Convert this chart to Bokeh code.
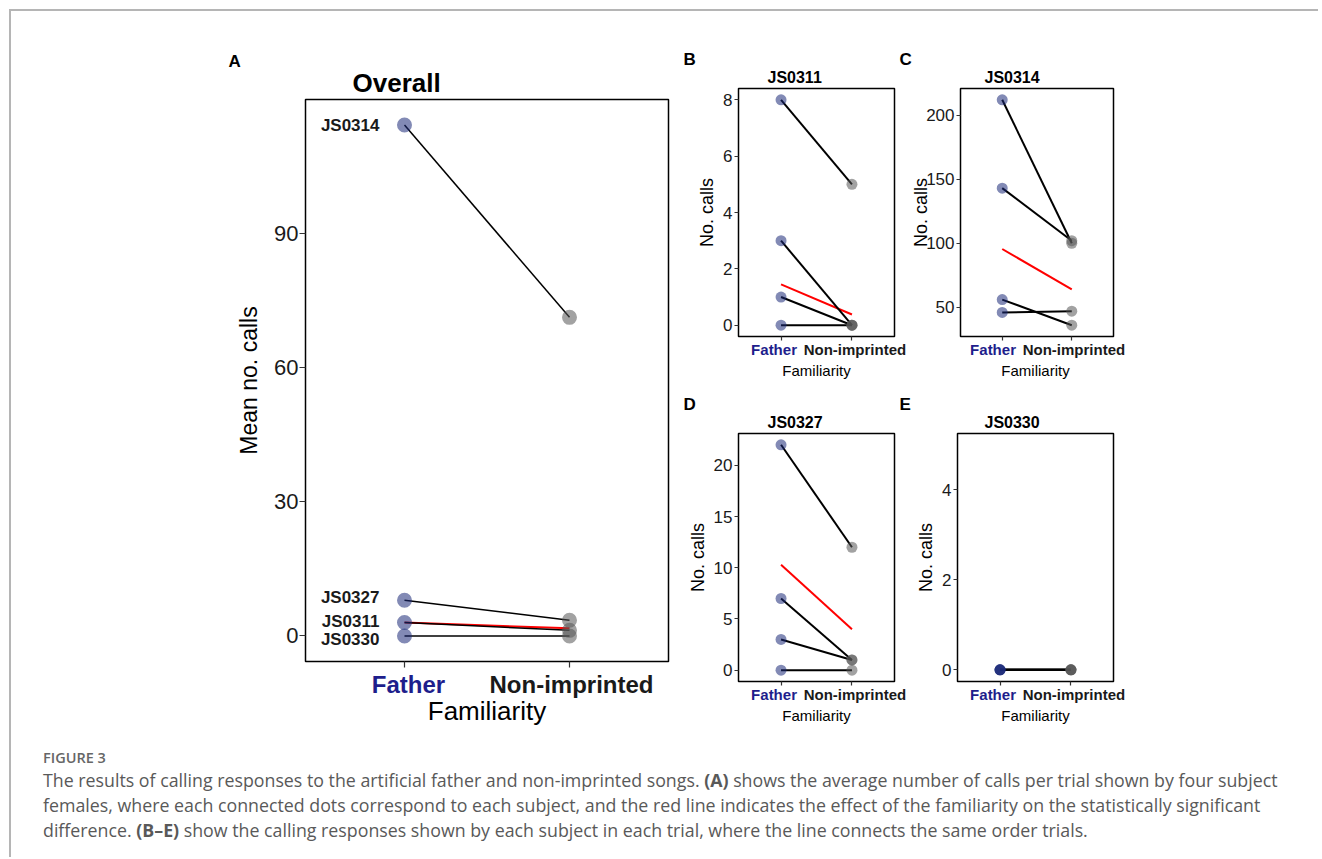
import numpy as np
from bokeh.plotting import figure
from bokeh.models import Label, LabelSet, FixedTicker, Range1d, ColumnDataSource, Div, Spacer
from bokeh.layouts import row, column
from bokeh.core.properties import value
from bokeh.embed import file_html
from bokeh.resources import INLINE

# ---------------- data ----------------
familiarity = ["Father", "Non-imprinted"]
subjects = ["JS0311", "JS0314", "JS0327", "JS0330"]

js0311_father = [8, 3, 1, 0]
js0311_nonimp = [5, 0, 0, 0]
js0314_father = [212, 143, 56, 46]
js0314_nonimp = [100, 102, 36, 47]
js0327_father = [22, 7, 3, 0]
js0327_nonimp = [12, 1, 1, 0]
js0330_father = [0, 0, 0, 0]
js0330_nonimp = [0, 0, 0, 0]

# fitted familiarity effect (red lines)
fit_overall = [3.0, 1.7]
fit_js0311 = [1.45, 0.38]
fit_js0314 = [95.5, 64.0]
fit_js0327 = [10.3, 4.0]

overall_ticks = [0, 30, 60, 90]
js0311_ticks = [0, 2, 4, 6, 8]
js0314_ticks = [50, 100, 150, 200]
js0327_ticks = [0, 5, 10, 15, 20]
js0330_ticks = [0, 2, 4]

caption_label = "FIGURE 3"
caption_lines = [
    "The results of calling responses to the artificial father and non-imprinted songs. <b>(A)</b> shows the average number of calls per trial shown by four subject",
    "females, where each connected dots correspond to each subject, and the red line indicates the effect of the familiarity on the statistically significant",
    "difference. <b>(B\u2013E)</b> show the calling responses shown by each subject in each trial, where the line connects the same order trials.",
]

# ---------------- style ----------------
FONT = "Liberation Sans"
FATHER_DOT = "#1c2a78"
NONIMP_DOT = "#555555"
DOT_ALPHA = 0.55
FATHER_TXT = "#1e1e8c"
TXT = "#1a1a1a"
XPOS = {f: i + 1 for i, f in enumerate(familiarity)}
XR = (0.4, 2.6)


def expand(vals, frac=0.05):
    lo, hi = float(min(vals)), float(max(vals))
    d = (hi - lo) * frac
    return lo - d, hi + d


def blank(width, height, xr, yr):
    p = figure(width=width, height=height, x_range=Range1d(*xr), y_range=Range1d(*yr),
               output_backend="svg", toolbar_location=None, x_axis_location=None, y_axis_location=None,
               min_border=0, min_border_left=0, min_border_right=0, min_border_top=0, min_border_bottom=0,
               frame_align=False)
    p.grid.visible = False
    p.outline_line_color = None
    p.background_fill_color = "white"
    p.border_fill_color = "white"
    return p


def header(width, height, items):
    """items: (text, x, center_from_top, size)"""
    p = blank(width, height, (0, width), (0, height))
    for t, x, c, size in items:
        p.add_layout(Label(x=x, y=height - c, text=t, text_font=FONT, text_font_style="bold",
                           text_font_size=size, text_baseline="middle", text_color="black"))
    return p


def main_fig(width, mbl, mbr, frame_h, yr, yticks, s):
    tick = s["tick"]
    p = figure(width=width, height=1 + frame_h + tick + 2, x_range=Range1d(*XR), y_range=Range1d(*yr),
               output_backend="svg", toolbar_location=None, frame_align=False,
               min_border_left=mbl, min_border_right=mbr, min_border_top=1, min_border_bottom=tick + 2)
    p.grid.visible = False
    p.outline_line_color = "black"
    p.outline_line_width = 1.5
    p.background_fill_color = "white"
    p.border_fill_color = "white"
    xa, ya = p.xaxis[0], p.yaxis[0]
    for ax in (xa, ya):
        ax.axis_line_color = None
        ax.minor_tick_line_color = None
        ax.major_tick_in = 0
        ax.major_tick_out = tick
        ax.major_tick_line_color = "#333333"
        ax.major_tick_line_width = 1.2
    ya.ticker = FixedTicker(ticks=yticks)
    ya.major_label_text_font = FONT
    ya.major_label_text_color = TXT
    ya.major_label_text_font_size = s["ytick"]
    ya.major_label_standoff = s["ystand"]
    ya.axis_label = s["ylabel"]
    ya.axis_label_text_font = FONT
    ya.axis_label_text_font_style = "normal"
    ya.axis_label_text_color = "black"
    ya.axis_label_text_font_size = s["ylab"]
    ya.axis_label_standoff = s["ylabstand"]
    xa.ticker = FixedTicker(ticks=[XPOS[f] for f in familiarity])
    xa.major_label_overrides = {XPOS[f]: "" for f in familiarity}
    xa.major_label_text_font_size = "1px"
    xa.major_label_standoff = 0
    return p


def footer(width, mbl, mbr, height, s):
    fw = width - mbl - mbr
    per = (XR[1] - XR[0]) / fw
    p = blank(width, height, (XR[0] - mbl * per, XR[1] + mbr * per), (0, height))
    p.text(x=[XPOS[f] for f in familiarity], y=[height - s["tick_c"]] * len(familiarity),
           text=familiarity, x_offset=s["tick_dx"], text_align="center", text_baseline="middle",
           text_font=value(FONT), text_font_style="bold", text_font_size=s["xtick"],
           text_color=[FATHER_TXT, TXT])
    p.add_layout(Label(x=sum(XR) / 2, y=height - s["lab_c"], text="Familiarity", text_align="center",
                       text_baseline="middle", text_font=FONT, text_font_size=s["xlab"],
                       text_color="black"))
    return p


def draw_pairs(p, father, nonimp, size, lw):
    xf, xn = XPOS["Father"], XPOS["Non-imprinted"]
    p.multi_line(xs=[[xf, xn] for _ in father], ys=[[a, b] for a, b in zip(father, nonimp)],
                 line_color="black", line_width=lw)
    p.scatter(x=[xf] * len(father), y=father, size=size, fill_color=FATHER_DOT, line_color=None,
              fill_alpha=DOT_ALPHA)
    p.scatter(x=[xn] * len(nonimp), y=nonimp, size=size, fill_color=NONIMP_DOT, line_color=None,
              fill_alpha=DOT_ALPHA)


def draw_fit(p, fit):
    p.line(x=[XPOS["Father"], XPOS["Non-imprinted"]], y=fit, line_color="red", line_width=2)


# ---------------- panel A ----------------
father_sets = [js0311_father, js0314_father, js0327_father, js0330_father]
nonimp_sets = [js0311_nonimp, js0314_nonimp, js0327_nonimp, js0330_nonimp]
mean_father = [float(np.mean(v)) for v in father_sets]
mean_nonimp = [float(np.mean(v)) for v in nonimp_sets]
label_nudge = [0.2, 0.0, 0.5, -0.9]

sA = dict(tick=6, ytick="22px", ylab="23px", ystand=1, ylabstand=9, ylabel="Mean no. calls",
          xtick="24px", xlab="26px", tick_c=15, lab_c=41, tick_dx=[4, 2])
WA, LA, RA = 460, 90, 7
hA = header(WA, 58, [("A", 13, 20.5, "17px"), ("Overall", 137, 42, "26px")])
mA = main_fig(WA, LA, RA, 562, expand(mean_father + mean_nonimp), overall_ticks, sA)
draw_fit(mA, fit_overall)
draw_pairs(mA, mean_father, mean_nonimp, 15, 1.5)
lab_src = ColumnDataSource(dict(x=[XPOS["Father"]] * len(subjects),
                                y=[m + n for m, n in zip(mean_father, label_nudge)], t=subjects))
mA.add_layout(LabelSet(x="x", y="y", text="t", source=lab_src, x_offset=-25, text_align="right",
                       text_baseline="middle", text_font=value(FONT), text_font_style="bold",
                       text_font_size="17px", text_color=TXT))
fA = footer(WA, LA, RA, 66, sA)
colA = column(hA, mA, fA)


# ---------------- small panels ----------------
def small(width, mbl, mbr, father, nonimp, yticks, fit, yr=None, ylabstand=3):
    s = dict(tick=4, ytick="17px", ylab="18px", ystand=2, ylabstand=ylabstand, ylabel="No. calls",
             xtick="15px", xlab="15px", tick_c=7, lab_c=27.5, tick_dx=[-7, 3])
    m = main_fig(width, mbl, mbr, 248, yr if yr else expand(father + nonimp), yticks, s)
    if fit is not None:
        draw_fit(m, fit)
    draw_pairs(m, father, nonimp, 11, 2)
    f = footer(width, mbl, mbr, 43, s)
    return column(m, f)


WB, LB, RB = 233, 63, 14
WC, LC, RC = 222, 49, 17
colB = small(WB, LB, RB, js0311_father, js0311_nonimp, js0311_ticks, fit_js0311)
colC = small(WC, LC, RC, js0314_father, js0314_nonimp, js0314_ticks, fit_js0314, ylabstand=-8)
colD = small(WB, LB, RB, js0327_father, js0327_nonimp, js0327_ticks, fit_js0327)
colE = small(WC, LC, RC, js0330_father, js0330_nonimp, js0330_ticks, None, yr=(-0.26, 5.25))

hBC = header(WB + WC, 47, [("B", 8, 19, "17px"), ("JS0311", 92, 37, "16px"),
                           ("C", 224, 19, "17px"), ("JS0314", 309, 37, "16px")])
hDE = header(WB + WC, 47, [("D", 8, 19, "17px"), ("JS0327", 92, 37, "16px"),
                           ("E", 224, 19, "17px"), ("JS0330", 309, 37, "16px")])

# ---------------- caption ----------------
cap_html = (
    "<div style=\"font-family:'Open Sans',sans-serif;white-space:nowrap;padding-top:7px;\">"
    f"<div style=\"font-size:14.5px;line-height:21px;color:#666666;font-weight:600;\">{caption_label}</div>"
    "<div style=\"font-size:17.8px;line-height:25px;color:#595959;\">"
    + "<br>".join(caption_lines) + "</div></div>"
)
cap = Div(text=cap_html, width=1270, height=112)

inner = column(
    Spacer(width=1305, height=29),
    row(Spacer(width=204, height=10), colA, column(hBC, row(colB, colC), hDE, row(colD, colE))),
    row(Spacer(width=27, height=10), cap),
    styles={"border-top": "2px solid #b5b5b5", "border-left": "2px solid #b5b5b5"},
)
layout = column(Spacer(width=10, height=9), row(Spacer(width=9, height=10), inner))

open("out.html", "w").write(file_html(layout, INLINE))
